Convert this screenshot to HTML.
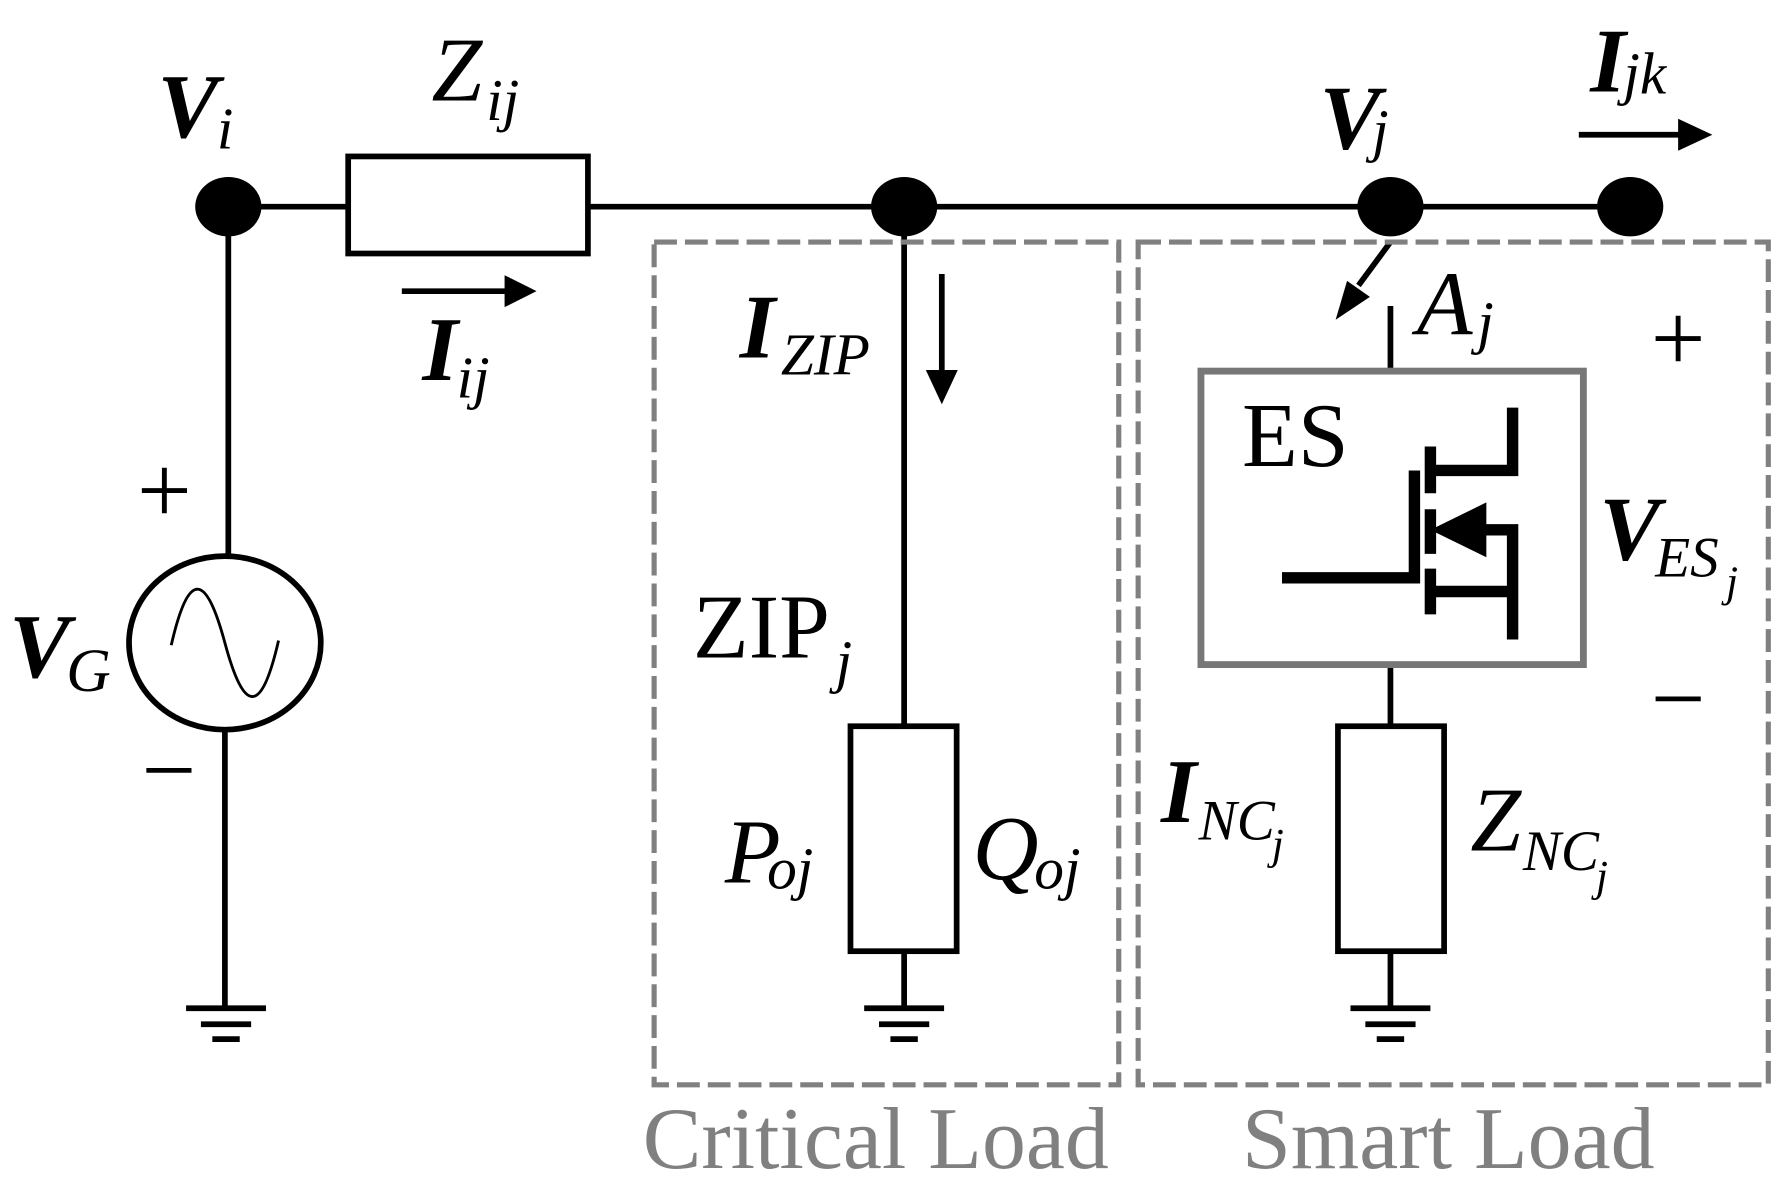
<!DOCTYPE html>
<html><head><style>
html,body{margin:0;padding:0;background:#fff;}
svg{display:block;}
text{font-family:"Liberation Serif","Times New Roman",serif;}
.bi{font-weight:bold;font-style:italic;}
.it{font-style:italic;}
</style></head><body>
<svg width="1790" height="1183" viewBox="0 0 1568 1036" preserveAspectRatio="none" xmlns="http://www.w3.org/2000/svg">
<g stroke="#000" stroke-width="5" fill="none">
<line x1="200" y1="181" x2="1428" y2="181"/>
<rect x="305" y="137" width="210" height="85" fill="#fff"/>
<line x1="200" y1="181" x2="200" y2="488"/>
<line x1="197" y1="638" x2="197" y2="883"/>
<ellipse cx="197" cy="563" rx="84" ry="76" fill="#fff"/>
<path d="M150,565 C165,500 180,500 197,563 C214,626 229,626 244,561" stroke-width="2.5"/>
<line x1="792" y1="181" x2="792" y2="636"/>
<rect x="745" y="636" width="93" height="197"/>
<line x1="792" y1="833" x2="792" y2="883"/>
<line x1="1218" y1="268" x2="1218" y2="325"/>
<line x1="1218" y1="582" x2="1218" y2="636"/>
<rect x="1172" y="636" width="93" height="197"/>
<line x1="1218" y1="833" x2="1218" y2="883"/>
<line x1="352" y1="255" x2="445" y2="255"/>
<line x1="825" y1="240" x2="825" y2="328"/>
<line x1="1383" y1="118" x2="1475" y2="118"/>
<line x1="1218" y1="212" x2="1190" y2="250"/>
</g>
<g fill="#000">
<ellipse cx="200" cy="181" rx="29" ry="26"/>
<ellipse cx="792" cy="181" rx="29" ry="26"/>
<ellipse cx="1218" cy="181" rx="29" ry="26"/>
<ellipse cx="1428" cy="181" rx="29" ry="26"/>
<polygon points="470,255 442,241 442,269"/>
<polygon points="825,354 811,324 839,324"/>
<polygon points="1500,118 1470,104 1470,132"/>
<polygon points="1170,280 1180,246 1200,260"/>
</g>
<g stroke="#000" stroke-width="5">
<line x1="163" y1="883" x2="233" y2="883"/>
<line x1="176" y1="897" x2="220" y2="897"/>
<line x1="186" y1="910" x2="210" y2="910"/>
<line x1="757" y1="883" x2="827" y2="883"/>
<line x1="770" y1="897" x2="814" y2="897"/>
<line x1="780" y1="910" x2="804" y2="910"/>
<line x1="1183" y1="883" x2="1253" y2="883"/>
<line x1="1196" y1="897" x2="1240" y2="897"/>
<line x1="1206" y1="910" x2="1230" y2="910"/>
</g>
<g stroke="#808080" stroke-width="4.5" fill="none" stroke-dasharray="20,7">
<rect x="573" y="212" width="407" height="738"/>
<rect x="997" y="212" width="552" height="738"/>
</g>
<rect x="1052" y="325" width="335" height="257" fill="#fff" stroke="#777" stroke-width="6"/>
<g stroke="#000" stroke-width="10" fill="none">
<polyline points="1123,506 1239,506 1239,412"/>
<line x1="1253" y1="391" x2="1253" y2="432"/>
<line x1="1253" y1="446" x2="1253" y2="485"/>
<line x1="1253" y1="498" x2="1253" y2="538"/>
<polyline points="1253,412 1325,412 1325,357"/>
<polyline points="1280,464 1325,464 1325,560"/>
<line x1="1253" y1="518" x2="1325" y2="518"/>
</g>
<polygon points="1253,464 1302,440 1302,488" fill="#000"/>
<g font-size="80">
<text x="138" y="120" class="bi">V</text><text x="190" y="130" font-size="52" class="it">i</text>
<text x="378" y="88" class="it">Z</text><text x="426" y="105" font-size="52" class="it">ij</text>
<text x="370" y="333" class="bi">I</text><text x="400" y="348" font-size="52" class="it">ij</text>
<text x="1156" y="130" class="bi">V</text><text x="1202" y="132" font-size="52" class="it">j</text>
<text x="1393" y="80" class="bi">I</text><text x="1422" y="82" font-size="52" class="it">jk</text>
<text x="8" y="593" class="bi">V</text><text x="58" y="605" font-size="54" class="it">G</text>
<text x="120" y="458" font-size="85">+</text>
<text x="124" y="703" font-size="85">−</text>
<text x="648" y="313" class="bi">I</text><text x="684" y="328" font-size="52" class="it">ZIP</text>
<text x="607" y="576">ZIP</text><text x="732" y="597" font-size="52" class="it">j</text>
<text x="635" y="773" class="it">P</text><text x="672" y="778" font-size="52" class="it">oj</text>
<text x="852" y="770" class="it">Q</text><text x="906" y="778" font-size="52" class="it">oj</text>
<text x="1088" y="408">ES</text>
<text x="1241" y="293" class="it">A</text><text x="1294" y="300" font-size="52" class="it">j</text>
<text x="1446" y="325" font-size="85">+</text>
<text x="1446" y="640" font-size="85">−</text>
<text x="1401" y="490" class="bi">V</text><text x="1450" y="505" font-size="50" class="it">ES</text><text x="1512" y="522" font-size="38" class="it">j</text>
<text x="1017" y="720" class="bi">I</text><text x="1050" y="735" font-size="50" class="it">NC</text><text x="1114" y="752" font-size="38" class="it">j</text>
<text x="1288" y="745" class="it">Z</text><text x="1334" y="762" font-size="50" class="it">NC</text><text x="1398" y="780" font-size="38" class="it">j</text>
</g>
<g font-size="77" fill="#808080">
<text x="563" y="1023">Critical Load</text>
<text x="1088" y="1023">Smart Load</text>
</g>
</svg>
</body></html>
